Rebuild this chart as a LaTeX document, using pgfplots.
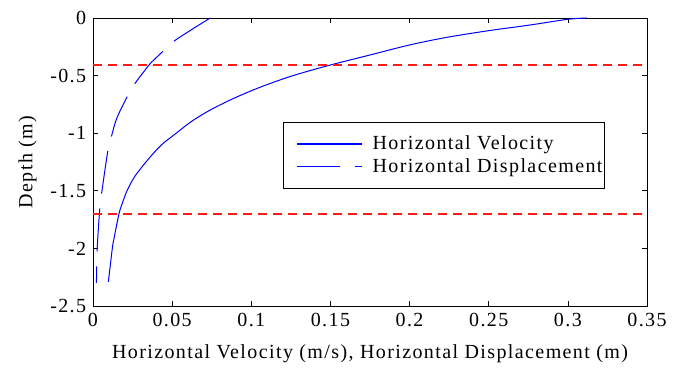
\documentclass[border=0pt]{standalone}
\usepackage{fontspec}
\setmainfont{Liberation Serif}[LetterSpace=7]
\usepackage{pgfplots}
\pgfplotsset{compat=1.18}
\definecolor{mred}{rgb}{1,0.1,0.1}
\definecolor{mblue}{rgb}{0,0,1}
\begin{document}
\fontsize{20bp}{24bp}\selectfont
\begin{tikzpicture}
\useasboundingbox (-93bp,-65bp) rectangle (595bp,306bp);
\begin{axis}[
  at={(0,0)}, anchor=south west,
  width=554bp, height=288bp, scale only axis,
  xmin=0, xmax=0.35, ymin=-2.5, ymax=0,
  xtick={0,0.05,0.1,0.15,0.2,0.25,0.3,0.35},
  xticklabels={0,0.05,0.1,0.15,0.2,0.25,0.3,0.35},
  ytick={-2.5,-2,-1.5,-1,-0.5,0},
  yticklabels={-2.5,-2,-1.5,-1,-0.5,0},
  tick align=inside,
  major tick length=5bp,
  tick style={black, line width=0.6bp},
  axis line style={black, line width=0.8bp},
  ticklabel style={font=\fontsize{20bp}{24bp}\selectfont},
  xlabel={Horizontal Velocity (m/s), Horizontal Displacement (m)},
  ylabel={Depth (m)},
  label style={font=\fontsize{20bp}{24bp}\selectfont},
  xlabel style={yshift=-5bp},
  legend style={at={(0.924,0.639)}, anchor=north east, draw=black, fill=white,
    line width=0.8bp, font=\fontsize{20bp}{24bp}\selectfont, inner xsep=0bp, inner ysep=11bp,
    row sep=2bp},
  legend cell align=left,
  legend image code/.code={\path (-13bp,0bp); \draw[#1, line width=1.5bp] (0bp,0bp) -- (65bp,0bp); \path (73bp,0bp);},
]
\addplot[mblue, line width=1bp, smooth] coordinates {
(0.312,0) (0.300,-0.011) (0.276,-0.061) (0.25,-0.110) (0.2235,-0.168)
(0.2,-0.234) (0.175,-0.321) (0.15,-0.408) (0.1264,-0.5) (0.1065,-0.596)
(0.0890,-0.697) (0.0740,-0.799) (0.0620,-0.900) (0.0526,-1.0) (0.0432,-1.102)
(0.0345,-1.233) (0.0263,-1.377) (0.0215,-1.5) (0.0185,-1.609) (0.0164,-1.7)
(0.0131,-1.927) (0.0122,-2.0) (0.0097,-2.29)
};
\addlegendentry{Horizontal Velocity}
\addplot[mblue, line width=1bp, smooth, dash pattern=on 43bp off 15bp] coordinates {
(0.074,0) (0.0522,-0.191) (0.0440,-0.292) (0.0388,-0.360) (0.0354,-0.408)
(0.0258,-0.582) (0.0211,-0.697) (0.0150,-0.871) (0.0116,-1.031) (0.0093,-1.16)
(0.0053,-1.537) (0.0042,-1.667) (0.0025,-2.04) (0.0022,-2.3)
};
\addlegendentry{Horizontal Displacement}
\addplot[draw=mred, line width=1.5bp, dash pattern=on 9bp off 6bp, forget plot] coordinates {(0,-0.41) (0.35,-0.41)};
\addplot[draw=mred, line width=1.5bp, dash pattern=on 9bp off 6bp, forget plot] coordinates {(0,-1.7) (0.35,-1.7)};
\end{axis}
\end{tikzpicture}
\end{document}
